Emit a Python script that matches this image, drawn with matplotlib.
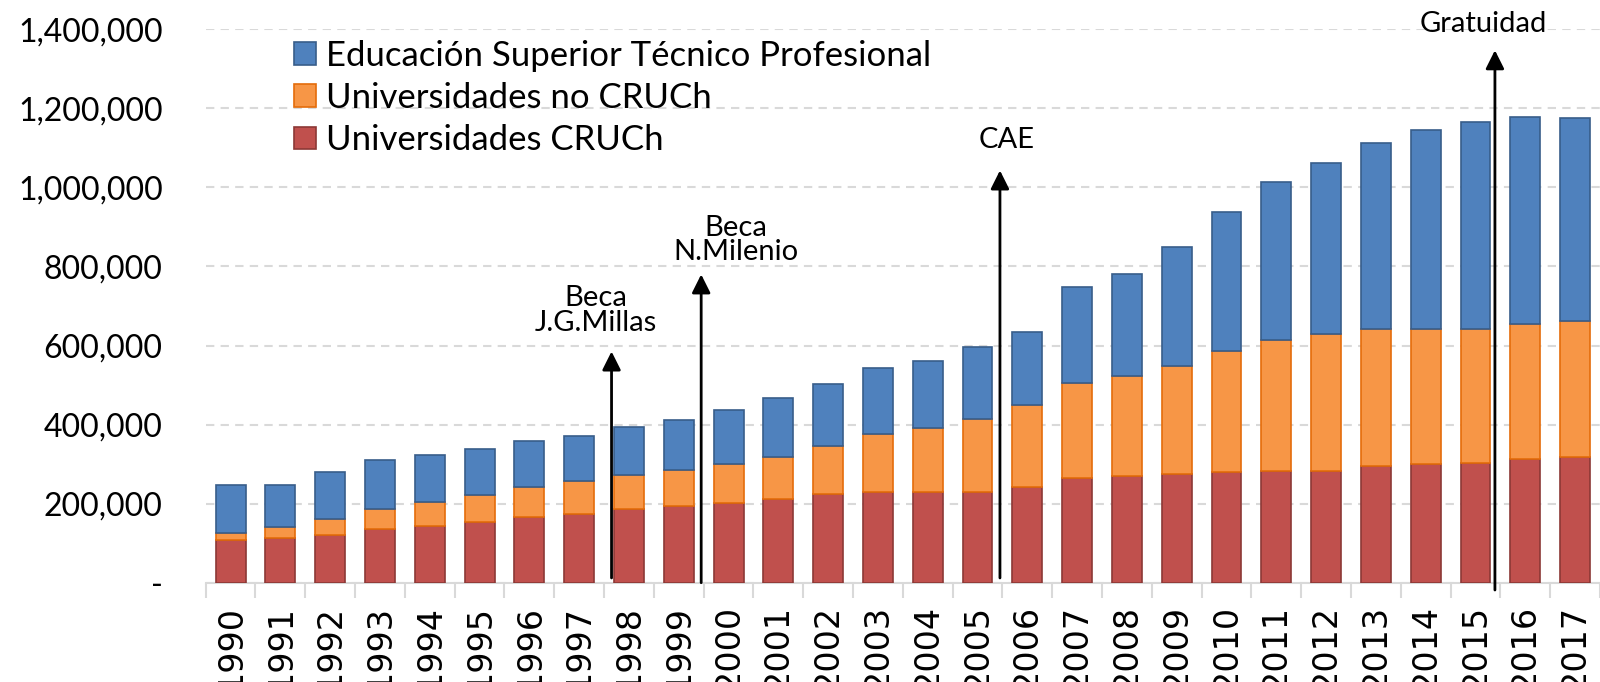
import matplotlib.pyplot as plt
from matplotlib.ticker import FuncFormatter, MultipleLocator

# categories
years = ['1990', '1991', '1992', '1993', '1994', '1995', '1996', '1997', '1998', '1999',
         '2000', '2001', '2002', '2003', '2004', '2005', '2006', '2007', '2008', '2009',
         '2010', '2011', '2012', '2013', '2014', '2015', '2016', '2017']

# stacked segments (enrolment)
cruch = [108000, 112000, 121000, 137000, 143000, 153000, 166000, 175000, 187000, 194000,
         201000, 211000, 224000, 229000, 229000, 230000, 243000, 264000, 270000, 275000,
         280000, 282000, 282000, 295000, 300000, 304000, 312000, 319000]
no_cruch = [17000, 29000, 39000, 49000, 61000, 70000, 76000, 82000, 86000, 91000,
            100000, 108000, 123000, 147000, 163000, 185000, 207000, 241000, 252000, 274000,
            305000, 333000, 348000, 348000, 343000, 339000, 342000, 343000]
tecnico = [121000, 106000, 121000, 124000, 118000, 115000, 117000, 114000, 120000, 127000,
           135000, 147000, 155000, 167000, 169000, 181000, 184000, 244000, 260000, 301000,
           353000, 399000, 433000, 470000, 502000, 522000, 524000, 514000]

series_names = ['Universidades CRUCh', 'Universidades no CRUCh',
                'Educación Superior Técnico Profesional']

# policy milestones: label, arrow x (category units), arrow bottom, arrow top, text x, text y
events = [
    ('Beca\nJ.G.Millas', 7.65, 12000, 585000, 7.33, 688000),
    ('Beca\nN.Milenio', 9.45, 0, 780000, 10.155, 867000),
    ('CAE', 15.45, 12000, 1043000, 15.59, 1119000),
    ('Gratuidad', 25.39, -18500, 1347000, 25.15, 1414000),
]

colors = ['#C0504D', '#F79646', '#4F81BD']
edges = ['#8C3836', '#E46C0A', '#385D8A']

W, H = 1600, 682
fig = plt.figure(figsize=(W / 100, H / 100), dpi=100)
ax = fig.add_axes([205.7 / W, (H - 582.7) / H, (W - 205.7) / W, (582.7 - 29.3) / H])

x = list(range(len(years)))
bottom = [0] * len(years)
handles = []
for vals, name, c, ec in zip([cruch, no_cruch, tecnico], series_names, colors, edges):
    b = ax.bar(x, vals, bottom=bottom, width=0.6, color=c, edgecolor=ec,
               linewidth=1.2, label=name, zorder=3)
    handles.append(b)
    bottom = [p + v for p, v in zip(bottom, vals)]

ax.set_xlim(-0.5, -0.5 + (W - 205.7) / 50.3)
ax.set_ylim(0, 1400000)

ax.yaxis.set_major_locator(MultipleLocator(200000))
ax.yaxis.set_major_formatter(FuncFormatter(lambda v, p: '-' if v == 0 else f'{v:,.0f}'))
ax.grid(axis='y', color='#d9d9d9', linestyle=(0, (4, 3)), linewidth=1.5, zorder=0)
ax.tick_params(axis='y', length=0, pad=31, labelsize=23)
for lab in ax.get_yticklabels():
    lab.set_fontfamily(['Lato', 'DejaVu Sans'])

ax.set_xticks(x)
ax.set_xticklabels(years, rotation=90, fontsize=24, fontfamily='DejaVu Sans')
ax.set_xticks([i - 0.5 for i in range(len(years) + 1)], minor=True)
ax.tick_params(axis='x', which='major', length=0, pad=16)
ax.tick_params(axis='x', which='minor', length=11, width=1.5, color='#d9d9d9')

for s in ['top', 'right', 'left']:
    ax.spines[s].set_visible(False)
ax.spines['bottom'].set_color('#d9d9d9')
ax.spines['bottom'].set_linewidth(1.5)

for label, xa, y0, y1, tx, ty in events:
    ax.annotate('', xy=(xa, y1), xytext=(xa, y0),
                arrowprops=dict(arrowstyle='-|>', color='black', lw=2,
                                mutation_scale=28, shrinkA=0, shrinkB=0),
                annotation_clip=False, zorder=5)
    ax.text(tx, ty, label, ha='center', va='center', fontsize=21,
            fontfamily=['Lato', 'DejaVu Sans'], linespacing=0.95, clip_on=False, zorder=5)

leg = ax.legend(handles[::-1], series_names[::-1], loc='upper left',
                bbox_to_anchor=(294 / W, 1 - 40 / H), bbox_transform=fig.transFigure,
                frameon=False, handlelength=0.63, handleheight=0.63,
                handletextpad=0.3, labelspacing=0.29, borderpad=0, borderaxespad=0,
                prop={'family': ['Lato', 'DejaVu Sans'], 'size': 25})

plt.savefig('out.png', dpi=100)
